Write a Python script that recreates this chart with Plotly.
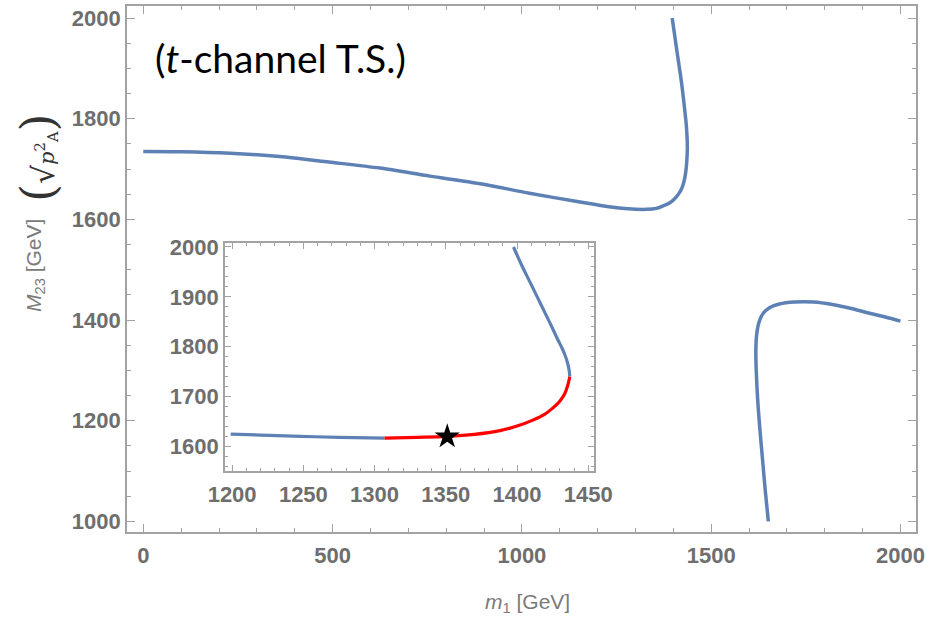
import plotly.graph_objects as go

# ---------------- data ----------------
# main panel, upper-left branch (m1, M23)
branch1_m1 = [0, 100, 230, 360, 490, 625, 757, 890, 1020, 1150, 1230, 1280, 1330, 1355, 1373,
              1391, 1408, 1420, 1427, 1432, 1435, 1437, 1436.5, 1434, 1430, 1422, 1409, 1397]
branch1_M23 = [1735, 1734.5, 1731.5, 1725, 1714, 1702, 1686, 1671, 1652, 1635, 1625, 1621, 1620,
               1622, 1627, 1633, 1645, 1658, 1672, 1690, 1710, 1740, 1760, 1790, 1818, 1870, 1937, 2000]
# main panel, lower-right branch
branch2_m1 = [1651, 1643, 1636, 1629, 1623, 1619, 1618, 1620, 1626, 1637, 1655, 1680, 1720, 1770,
              1820, 1870, 1910, 1960, 2000]
branch2_M23 = [1000, 1060, 1120, 1180, 1240, 1300, 1340, 1370, 1395, 1413, 1425, 1432, 1436, 1436,
               1431, 1423, 1415, 1406, 1398]

# inset: blue low part, red segment, blue upper part
inset_blue1_m1 = [1199, 1220, 1248, 1275, 1307]
inset_blue1_M23 = [1625, 1623, 1620.5, 1618.5, 1617]
inset_red_m1 = [1307, 1330, 1351, 1370, 1388, 1400, 1411, 1419, 1425, 1430, 1433.6, 1435.5, 1437]
inset_red_M23 = [1617, 1618.5, 1620.5, 1624.5, 1632, 1641, 1653, 1664, 1677, 1691, 1707, 1722, 1740]
inset_blue2_m1 = [1437, 1436.6, 1435.5, 1433.8, 1431.6, 1429, 1426, 1421, 1415, 1409, 1403, 1397.5]
inset_blue2_M23 = [1740, 1752, 1767, 1782, 1797, 1812, 1830, 1860, 1895, 1930, 1965, 2000]
star_m1 = [1351]
star_M23 = [1620]

main_xticks = [0, 500, 1000, 1500, 2000]
main_yticks = [1000, 1200, 1400, 1600, 1800, 2000]
inset_xticks = [1200, 1250, 1300, 1350, 1400, 1450]
inset_yticks = [1600, 1700, 1800, 1900, 2000]

# ---------------- style ----------------
BLUE = "#5E81B5"
RED = "#FF0000"
FRAME = "#a3a3a3"
TICKLAB = "#6e6e6e"
W, H = 926, 618
L, R, T, B = 127, 10, 6, 86
PW, PH = W - L - R, H - T - B


def px(xp):
    return (xp - L) / PW


def py(yp):
    return (H - B - yp) / PH


fig = go.Figure()
fig.add_trace(go.Scatter(x=branch1_m1, y=branch1_M23, mode="lines",
                         line=dict(color=BLUE, width=3.5, shape="spline", smoothing=0.8),
                         xaxis="x", yaxis="y"))
fig.add_trace(go.Scatter(x=branch2_m1, y=branch2_M23, mode="lines",
                         line=dict(color=BLUE, width=3.5, shape="spline", smoothing=0.8),
                         xaxis="x", yaxis="y"))
fig.add_trace(go.Scatter(x=inset_blue1_m1, y=inset_blue1_M23, mode="lines",
                         line=dict(color=BLUE, width=3.2, shape="spline"), xaxis="x2", yaxis="y2"))
fig.add_trace(go.Scatter(x=inset_blue2_m1, y=inset_blue2_M23, mode="lines",
                         line=dict(color=BLUE, width=3.2, shape="spline"), xaxis="x2", yaxis="y2"))
fig.add_trace(go.Scatter(x=inset_red_m1, y=inset_red_M23, mode="lines",
                         line=dict(color=RED, width=3.2, shape="spline"), xaxis="x2", yaxis="y2"))
fig.add_trace(go.Scatter(x=star_m1, y=star_M23, mode="markers",
                         marker=dict(symbol="star", size=19, color="black"), xaxis="x2", yaxis="y2"))

tickfont = dict(family="Liberation Sans", size=22, color=TICKLAB, weight="bold")
axis_common = dict(showline=True, linecolor=FRAME, linewidth=1.6, mirror="allticks",
                   ticks="inside", tickcolor=FRAME, tickwidth=1.3, showgrid=False,
                   zeroline=False, tickfont=tickfont, automargin=False)

fig.update_layout(
    width=W, height=H,
    margin=dict(l=L, r=R, t=T, b=B, autoexpand=False),
    paper_bgcolor="white", plot_bgcolor="white",
    showlegend=False,
    xaxis=dict(range=[-43, 2041], tickvals=main_xticks, ticklen=8, ticklabelstandoff=3,
               minor=dict(dtick=100, ticklen=4, ticks="inside", tickcolor=FRAME, tickwidth=1.2),
               **axis_common),
    yaxis=dict(range=[979, 2024], tickvals=main_yticks, ticklen=8,
               minor=dict(dtick=50, ticklen=4, ticks="inside", tickcolor=FRAME, tickwidth=1.2),
               **axis_common),
    xaxis2=dict(domain=[px(225), px(594)], anchor="y2", range=[1195, 1454],
                tickvals=inset_xticks, ticklen=6, ticklabelstandoff=3,
                minor=dict(dtick=10, ticklen=3, ticks="inside", tickcolor=FRAME, tickwidth=1.1),
                **axis_common),
    yaxis2=dict(domain=[py(470.5), py(243)], anchor="x2", range=[1552, 2008],
                tickvals=inset_yticks, ticklen=6,
                minor=dict(dtick=20, ticklen=3, ticks="inside", tickcolor=FRAME, tickwidth=1.1),
                **axis_common),
)

big = "<span style='font-size:46px'>{}</span>"
ann = dict(xref="paper", yref="paper", showarrow=False, xanchor="center", yanchor="middle")
annotations = [
    dict(text="(<i>t</i>-channel T.S.)", x=px(280), y=py(58),
         font=dict(family="Lato", size=39, color="black"), **ann),
    dict(text="<i>m</i><sub>1</sub> [GeV]", x=px(527), y=py(603),
         font=dict(family="Liberation Sans", size=21, color="#7a7a7a"), **ann),
    dict(text="<i>M</i><sub>23</sub> [GeV]", x=px(35), y=py(266), textangle=-90,
         font=dict(family="Liberation Sans", size=21, color="#7a7a7a"), **ann),
    dict(text=big.format("(") + "<span style='font-size:30px'>√</span><i>p</i><sup>2</sup><sub>A</sub>"
         + big.format(")"),
         x=px(38), y=py(158), textangle=-90,
         font=dict(family="DejaVu Serif", size=21, color="#333333"), **ann),
]
fig.update_layout(annotations=annotations)

fig.write_html("out.html", post_script="document.body.style.margin='0';")
